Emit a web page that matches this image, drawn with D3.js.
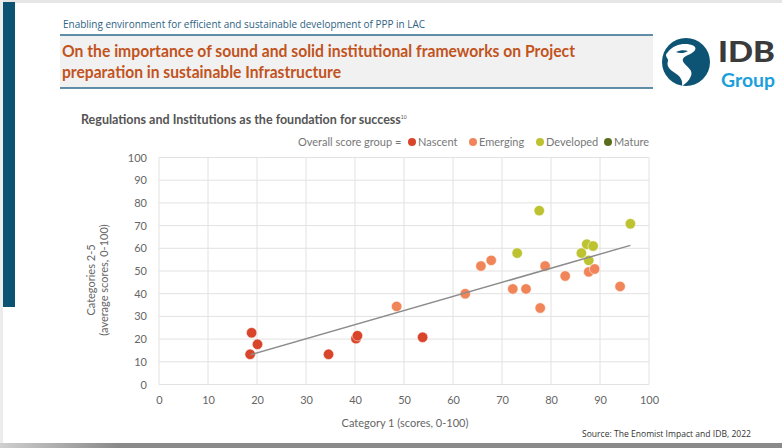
<!DOCTYPE html>
<html>
<head>
<meta charset="utf-8">
<script src="https://cdn.jsdelivr.net/npm/d3@7"></script>
<style>
  html, body { margin: 0; padding: 0; background: #fff; }
  svg { display: block; }
</style>
</head>
<body>
<div id="chart"></div>
<script>
// ── DATA ─────────────────────────────────────────────────────────────────────
const groups = ['Nascent', 'Emerging', 'Developed', 'Mature'];
const groupColors = ['#d8452a', '#f0855a', '#bcc230', '#5b6d1d'];

const nascentX  = [18.9, 20.1, 18.6, 34.6, 40.2, 40.5, 53.8];
const nascentY  = [22.8, 17.7, 13.3, 13.3, 20.2, 21.5, 20.8];

const emergingX = [48.5, 62.5, 65.7, 67.8, 72.2, 74.9, 77.8, 78.8, 82.9, 87.7, 88.9, 94.1];
const emergingY = [34.4, 40.0, 52.2, 54.7, 42.1, 42.1, 33.7, 52.2, 47.8, 49.6, 50.9, 43.2];

const developedX = [73.1, 77.6, 86.2, 87.3, 88.6, 87.7, 96.2];
const developedY = [57.9, 76.6, 57.9, 61.8, 61.0, 54.7, 70.8];

const maturesX = [];
const maturesY = [];

// trend line end points
const trendX = [18.7, 96.2];
const trendY = [13.1, 61.3];

const xTicks = [0, 10, 20, 30, 40, 50, 60, 70, 80, 90, 100];
const yTicks = [0, 10, 20, 30, 40, 50, 60, 70, 80, 90, 100];

// ── SVG ──────────────────────────────────────────────────────────────────────
const W = 782, H = 448;
const svg = d3.select('#chart').append('svg')
  .attr('width', W).attr('height', H);

// slide frame
svg.append('rect').attr('x', 0).attr('y', 0).attr('width', W).attr('height', 3).attr('fill', '#e6e6e6');
svg.append('rect').attr('x', 0).attr('y', 0).attr('width', 3).attr('height', H).attr('fill', '#ececec');
svg.append('rect').attr('x', 3).attr('y', 2).attr('width', 12).attr('height', 305).attr('fill', '#0b5273');

const grad = svg.append('defs').append('linearGradient').attr('id', 'bottomBar');
grad.append('stop').attr('offset', '0%').attr('stop-color', '#cfcfcf');
grad.append('stop').attr('offset', '15%').attr('stop-color', '#8a8a8a');
grad.append('stop').attr('offset', '100%').attr('stop-color', '#8a8a8a');
svg.append('rect').attr('x', 0).attr('y', 443).attr('width', W).attr('height', 5).attr('fill', 'url(#bottomBar)');

// ── HEADER ───────────────────────────────────────────────────────────────────
svg.append('text')
  .attr('x', 63).attr('y', 28)
  .attr('font-family', 'Open Sans, sans-serif')
  .attr('font-size', 10.5)
  .attr('fill', '#2d6283')
  .attr('textLength', 362).attr('lengthAdjust', 'spacingAndGlyphs')
  .text('Enabling environment for efficient and sustainable development of PPP in LAC');

svg.append('rect').attr('x', 60).attr('y', 35).attr('width', 593).attr('height', 53).attr('fill', '#f1f1f1');
svg.append('line').attr('x1', 60).attr('x2', 653).attr('y1', 35).attr('y2', 35)
  .attr('stroke', '#2d6a8c').attr('stroke-width', 1.6);
svg.append('line').attr('x1', 60).attr('x2', 653).attr('y1', 88).attr('y2', 88)
  .attr('stroke', '#2d6a8c').attr('stroke-width', 1.6);

// two-line title
const title = svg.append('text')
  .attr('font-family', 'Lato, sans-serif')
  .attr('font-size', 17)
  .attr('font-weight', 700)
  .attr('fill', '#c2531d');
title.append('tspan').attr('x', 62).attr('y', 57)
  .attr('textLength', 513).attr('lengthAdjust', 'spacingAndGlyphs')
  .text('On the importance of sound and solid institutional frameworks on Project');
title.append('tspan').attr('x', 62).attr('y', 78)
  .attr('textLength', 279).attr('lengthAdjust', 'spacingAndGlyphs')
  .text('preparation in sustainable Infrastructure');

// logo
const logo = svg.append('g');
logo.append('circle').attr('cx', 686).attr('cy', 62).attr('r', 24).attr('fill', '#0d5474');
logo.append('path')
  .attr('d', 'M668,52 C674,44 686,42 694,46 C698,49 693,53 688,55 C684,57 681,59 684,63 C688,68 693,70 691,76 C689,81 685,84 682,86 C683,80 680,76 675,73 C670,70 666,66 668,61 C669,58 663,56 668,52 Z')
  .attr('fill', '#fff');
logo.append('path')
  .attr('d', 'M676,52 C680,50 685,50 688,51 C685,53 680,54 676,52 Z')
  .attr('fill', '#0d5474');
logo.append('text').attr('x', 718).attr('y', 61.5)
  .attr('font-family', 'Lato, sans-serif').attr('font-weight', 900)
  .attr('font-size', 29).attr('fill', '#3b3b3b')
  .attr('textLength', 57).attr('lengthAdjust', 'spacingAndGlyphs')
  .text('IDB');
logo.append('text').attr('x', 721).attr('y', 86.5)
  .attr('font-family', 'Lato, sans-serif').attr('font-weight', 700)
  .attr('font-size', 19.5).attr('fill', '#1d9fdb')
  .attr('textLength', 54).attr('lengthAdjust', 'spacingAndGlyphs')
  .text('Group');

// ── CHART TITLE + LEGEND ─────────────────────────────────────────────────────
const ct = svg.append('text').attr('x', 81).attr('y', 124)
  .attr('font-family', 'Lato, sans-serif').attr('font-weight', 700)
  .attr('font-size', 12.5).attr('fill', '#555');
ct.append('tspan').text('Regulations and Institutions as the foundation for success');
ct.append('tspan').attr('dy', -5).attr('font-size', 5).attr('font-weight', 400).text('10');

const legend = svg.append('g')
  .attr('font-family', 'Lato, sans-serif').attr('font-size', 11).attr('fill', '#777');
legend.append('text').attr('x', 298).attr('y', 146).text('Overall score group =');
const legendX = [412, 473, 540, 608];
groups.forEach((g, i) => {
  legend.append('circle').attr('cx', legendX[i]).attr('cy', 142).attr('r', 4).attr('fill', groupColors[i]);
  legend.append('text').attr('x', legendX[i] + 6).attr('y', 146).text(g);
});

// ── PLOT ─────────────────────────────────────────────────────────────────────
const x = d3.scaleLinear().domain([0, 100]).range([159, 649]);
const y = d3.scaleLinear().domain([0, 100]).range([384.5, 157.5]);

const gridG = svg.append('g');
gridG.selectAll('.vg').data(xTicks).join('line')
  .attr('x1', d => x(d)).attr('x2', d => x(d))
  .attr('y1', y(0)).attr('y2', y(100))
  .attr('stroke', '#e2e2e2').attr('stroke-width', 1);
gridG.selectAll('.hg').data(yTicks).join('line')
  .attr('x1', x(0)).attr('x2', x(100))
  .attr('y1', d => y(d)).attr('y2', d => y(d))
  .attr('stroke', '#e2e2e2').attr('stroke-width', 1);

const xAxis = svg.append('g')
  .attr('transform', `translate(0,${y(0)})`)
  .call(d3.axisBottom(x).tickValues(xTicks).tickSize(0).tickPadding(12));
const yAxis = svg.append('g')
  .attr('transform', `translate(${x(0)},0)`)
  .call(d3.axisLeft(y).tickValues(yTicks).tickSize(0).tickPadding(12));
[xAxis, yAxis].forEach(a => {
  a.select('.domain').remove();
  a.selectAll('text')
    .attr('font-family', 'Lato, sans-serif')
    .attr('font-size', 11)
    .attr('fill', '#666');
});

// axis titles
svg.append('text')
  .attr('x', 405).attr('y', 427)
  .attr('text-anchor', 'middle')
  .attr('font-family', 'Lato, sans-serif').attr('font-size', 11).attr('fill', '#666')
  .text('Category 1 (scores, 0-100)');
const yl = svg.append('text')
  .attr('transform', 'translate(95,280) rotate(-90)')
  .attr('text-anchor', 'middle')
  .attr('font-family', 'Lato, sans-serif').attr('font-size', 11).attr('fill', '#666');
yl.append('tspan').attr('x', 0).attr('y', 0).text('Categories 2-5');
yl.append('tspan').attr('x', 0).attr('y', 13).text('(average scores, 0-100)');

// points
const series = [
  { xs: nascentX,   ys: nascentY,   color: groupColors[0] },
  { xs: emergingX,  ys: emergingY,  color: groupColors[1] },
  { xs: developedX, ys: developedY, color: groupColors[2] },
  { xs: maturesX,   ys: maturesY,   color: groupColors[3] }
];
const pts = [];
series.forEach(s => s.xs.forEach((v, i) => pts.push({ x: v, y: s.ys[i], color: s.color })));

svg.append('g').selectAll('circle').data(pts).join('circle')
  .attr('cx', d => x(d.x)).attr('cy', d => y(d.y))
  .attr('r', 5.2)
  .attr('fill', d => d.color)
  .attr('stroke', '#fff').attr('stroke-width', 0.5);

// trend line (drawn over points, as in the reference)
const trend = trendX.map((v, i) => ({ x: v, y: trendY[i] }));
svg.append('path')
  .datum(trend)
  .attr('d', d3.line().x(d => x(d.x)).y(d => y(d.y)))
  .attr('fill', 'none')
  .attr('stroke', '#8c8c8c')
  .attr('stroke-width', 1.5);

// source
svg.append('text')
  .attr('x', 582).attr('y', 437)
  .attr('font-family', 'Open Sans, sans-serif').attr('font-size', 8.5).attr('fill', '#333')
  .attr('textLength', 169).attr('lengthAdjust', 'spacingAndGlyphs')
  .text('Source: The Enomist Impact and IDB, 2022');
</script>
</body>
</html>
